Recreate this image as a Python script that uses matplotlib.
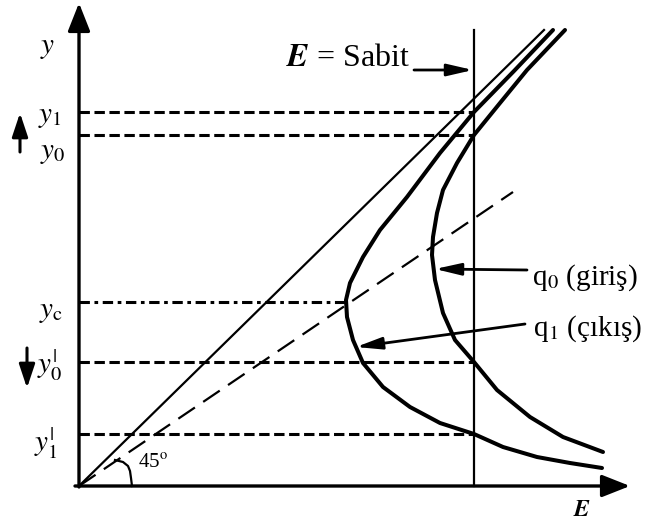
import numpy as np
import matplotlib.pyplot as plt
from matplotlib.patches import ArrowStyle

plt.rcParams['font.family'] = ['Liberation Serif', 'DejaVu Serif']
plt.rcParams['mathtext.fontset'] = 'stix'

# depth levels (y) and constant specific energy (E), origin at the axes corner
levels = {'y1': 374, 'y0': 351, 'yc': 184, 'y0p': 124, 'y1p': 52}
E_const = 395
E_top = 456

# 45 degree line and critical-depth line (y = 2/3 E)
line45_E = [0, 465]
line45_y = [0, 456]
crit_E = [0, 434]
crit_y = [0, 294]

# specific energy curve for q1 (outlet, inner curve)
q1_E = [474, 435, 395, 361, 328, 301, 284, 271, 267, 268, 274, 284, 304, 331,
        361, 395, 424, 458, 491, 523]
q1_y = [456, 415, 374, 333, 289, 256, 229, 203, 186, 169, 146, 123, 99, 79,
        63, 52, 39, 29, 23, 18]

# specific energy curve for q0 (inlet, outer curve)
q0_E = [486, 448, 421, 395, 378, 364, 358, 354, 353, 356, 364, 376, 395, 418,
        451, 484, 524]
q0_y = [456, 416, 383, 351, 323, 296, 273, 249, 231, 206, 173, 146, 124, 96,
        69, 49, 34]

# small angle mark near the origin
ang_E = [36, 44, 49, 51, 52, 53]
ang_y = [26, 24, 20, 15, 8, 0]

fig = plt.figure(figsize=(6.54, 5.25), dpi=100)
ax = fig.add_axes([0, 0, 1, 1])
ax.set_xlim(-79, 575)
ax.set_ylim(-39, 486)
ax.axis('off')

# axes with arrow heads
head = ArrowStyle('-|>', head_length=0.86, head_width=0.34)
ax.annotate('', xy=(0, 483), xytext=(0, -1),
            arrowprops=dict(arrowstyle=head, lw=2.4, color='black',
                            mutation_scale=20, shrinkA=0, shrinkB=0))
ax.annotate('', xy=(551, 0), xytext=(-4, 0),
            arrowprops=dict(arrowstyle=head, lw=2.4, color='black',
                            mutation_scale=20, shrinkA=0, shrinkB=0))

# horizontal depth lines
for key in ['y1', 'y0', 'y0p', 'y1p']:
    ax.plot([0, E_const], [levels[key]] * 2, color='black', lw=2.2,
            dashes=(3.4, 1.5))
ax.plot([0, 267], [levels['yc']] * 2, color='black', lw=2.2,
        dashes=(3.4, 1.5, 1.2, 1.5))

# E = const line
ax.plot([E_const, E_const], [0, E_top], color='black', lw=1.6)

ax.plot(line45_E, line45_y, color='black', lw=1.6)
ax.plot(crit_E, crit_y, color='black', lw=1.6, dashes=(9, 4.5))

curve_kw = dict(color='black', lw=2.9, solid_capstyle='round',
                solid_joinstyle='round')
ax.plot(q1_E, q1_y, **curve_kw)
ax.plot(q0_E, q0_y, **curve_kw)
ax.plot(ang_E, ang_y, color='black', lw=1.6)

# labels
ax.text(-24, 438, '$y$', fontsize=21, ha='right', va='center')
ylabels = [(r'$y_1$', -17, 369), (r'$y_0$', -14, 333),
           (r'$y_\mathrm{c}$', -16, 174),
           (r'$y_0^{|}$', -17, 121),
           (r'$y_1^{|}$', -21, 43)]
for txt, xx, yy in ylabels:
    ax.text(xx, yy, txt, fontsize=21, ha='right', va='center')

small = ArrowStyle('-|>', head_length=0.9, head_width=0.3)
ax.annotate('', xy=(-59, 373), xytext=(-59, 334),
            arrowprops=dict(arrowstyle=small, lw=2.2, color='black',
                            mutation_scale=16, shrinkA=0, shrinkB=0))
ax.annotate('', xy=(-52, 98), xytext=(-52, 138),
            arrowprops=dict(arrowstyle=small, lw=2.2, color='black',
                            mutation_scale=16, shrinkA=0, shrinkB=0))

ax.text(207, 420, r'$\boldsymbol{E}$ = Sabit', fontsize=23, ha='left',
        va='baseline')
thin = ArrowStyle('-|>', head_length=1.3, head_width=0.3)
ax.annotate('', xy=(394, 416), xytext=(335, 416),
            arrowprops=dict(arrowstyle=thin, lw=2.0, color='black',
                            mutation_scale=12, shrinkA=0, shrinkB=0))

ax.text(453, 208, r'q$_0$ (giriş)', fontsize=21, ha='left', va='center')
ax.annotate('', xy=(356, 217), xytext=(448, 216),
            arrowprops=dict(arrowstyle=thin, lw=2.0, color='black',
                            mutation_scale=12, shrinkA=0, shrinkB=0))
ax.text(454, 157, r'q$_1$ (çıkış)', fontsize=21, ha='left', va='center')
ax.annotate('', xy=(277, 139), xytext=(446, 162),
            arrowprops=dict(arrowstyle=thin, lw=2.0, color='black',
                            mutation_scale=12, shrinkA=0, shrinkB=0))

ax.text(59, 22, r'45$^{\mathrm{o}}$', fontsize=15, ha='left', va='center')
ax.text(503, -24, r'$\boldsymbol{E}$', fontsize=17, ha='center', va='center')

plt.savefig('out.png', dpi=100)
